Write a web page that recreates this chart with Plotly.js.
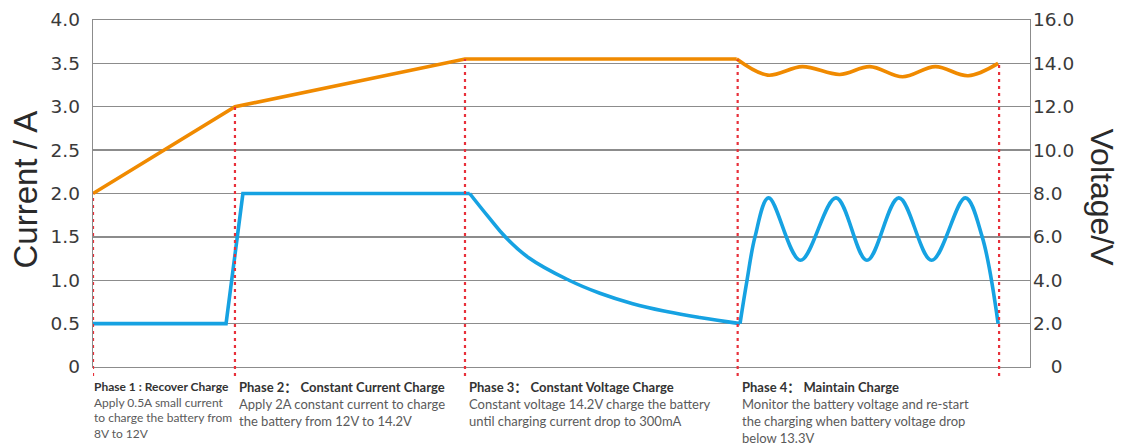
<!DOCTYPE html>
<html><head><meta charset="utf-8">
<script src="https://cdn.plot.ly/plotly-3.0.1.min.js"></script>
<style>html,body{margin:0;padding:0;background:#fff}#chart{width:1123px;height:445px}</style>
</head><body><div id="chart"></div>
<script>
// Voltage (right axis, V) over relative charging time
const rampTime = [0, 15.15, 39.7, 68.7];
const rampVoltage = [8.0, 12.0, 14.2, 14.2];
const waveTime = [68.7, 72.0, 75.7, 79.7, 82.9, 86.4, 89.9, 93.4, 96.6];
const waveVoltage = [14.2, 13.46, 13.85, 13.49, 13.85, 13.38, 13.85, 13.43, 14.0];

// Current (left axis, A)
const stepTime = [0, 14.2, 16.0, 40.2];
const stepCurrent = [0.5, 0.5, 2.0, 2.0];
const decayTime = [40.2, 42.2, 44.0, 46.5, 50.8, 54.1, 57.6, 61.2, 64.75, 69.05];
const decayCurrent = [2.0, 1.73, 1.5, 1.26, 1.0, 0.85, 0.73, 0.64, 0.57, 0.5];
const pulseTime = [69.05, 69.8, 70.65, 72.1, 75.5, 79.3, 82.6, 86.0, 89.5, 93.1, 94.9, 96.6];
const pulseCurrent = [0.5, 1.0, 1.5, 1.95, 1.23, 1.95, 1.23, 1.95, 1.23, 1.95, 1.5, 0.5];

// Phase boundaries
const phaseStart = [0, 15.15, 39.7, 68.8, 96.7];

// Ticks
const currentTicks = [0, 0.5, 1.0, 1.5, 2.0, 2.5, 3.0, 3.5, 4.0];
const currentTickText = ['0', '0.5', '1.0', '1.5', '2.0', '2.5', '3.0', '3.5', '4.0'];
const voltageTicks = [0, 2, 4, 6, 8, 10, 12, 14, 16];
const voltageTickText = ['\u2007\u20080', '2.0', '4.0', '6.0', '8.0', '10.0', '12.0', '14.0', '16.0'];

// Phase descriptions
const phaseTitles = [
  'Phase 1 : Recover Charge',
  'Phase 2\uFF1A\u00A0Constant Current Charge',
  'Phase 3\uFF1A\u00A0Constant Voltage Charge',
  'Phase 4\uFF1A\u00A0Maintain Charge'
];
const phaseNotes = [
  ['Apply 0.5A small current', 'to charge the battery from', '8V to 12V'],
  ['Apply 2A constant current to charge', 'the battery from 12V to 14.2V'],
  ['Constant voltage 14.2V charge the battery', 'until charging current drop to 300mA'],
  ['Monitor the battery voltage and re-start', 'the charging when battery voltage drop', 'below 13.3V']
];

const ORANGE = '#f08a00', BLUE = '#16a2e2', RED = '#e8303a', GRID = '#8c8c8c';
const allVT = rampTime.concat(waveTime.slice(1));
const allVV = rampVoltage.concat(waveVoltage.slice(1));
function voltageAt(t) {
  if (t <= allVT[0]) return allVV[0];
  for (let i = 1; i < allVT.length; i++) {
    if (t <= allVT[i]) {
      const f = (t - allVT[i-1]) / (allVT[i] - allVT[i-1]);
      return allVV[i-1] + f * (allVV[i] - allVV[i-1]);
    }
  }
  return allVV[allVV.length - 1];
}

const traces = [
  {x: stepTime, y: stepCurrent, yaxis: 'y', mode: 'lines', line: {color: BLUE, width: 3.6}},
  {x: decayTime, y: decayCurrent, yaxis: 'y', mode: 'lines', line: {color: BLUE, width: 3.6, shape: 'spline', smoothing: 1.2}},
  {x: pulseTime, y: pulseCurrent, yaxis: 'y', mode: 'lines', line: {color: BLUE, width: 3.6, shape: 'spline'}},
  {x: rampTime, y: rampVoltage, yaxis: 'y2', mode: 'lines', line: {color: ORANGE, width: 3.6}},
  {x: waveTime, y: waveVoltage, yaxis: 'y2', mode: 'lines', line: {color: ORANGE, width: 3.6, shape: 'spline'}}
];

const V_MAX = 16;
const shapes = phaseStart.map(t => ({
  type: 'line', xref: 'x', yref: 'paper', x0: t, x1: t,
  y0: -0.026, y1: voltageAt(t) / V_MAX,
  line: {color: RED, width: 2.2, dash: '3px,4px'}, layer: 'above'
}));

const tickFont = {family: 'DejaVu Sans', size: 18.5, color: '#3a3a3a'};
const annotations = phaseTitles.map((title, i) => ({
  xref: 'x', yref: 'paper', x: phaseStart[i], y: i === 0 ? -0.03 : -0.028,
  xanchor: 'left', yanchor: 'top', align: 'left', showarrow: false,
  xshift: i === 0 ? -1 : 2,
  font: {family: 'Lato, Noto Sans CJK SC', size: i === 0 ? 12 : 13, color: '#333'},
  text: '<b>' + title + '</b><br>' + phaseNotes[i].map(l => '<span style="color:#5a5a5a">' + l + '</span>').join('<br>')
}));
annotations.push({
  xref: 'paper', yref: 'paper', x: 0, y: 0.5, xshift: -68, yshift: 4,
  xanchor: 'center', yanchor: 'middle',
  textangle: -90, showarrow: false, text: 'Current / A',
  font: {family: 'Liberation Sans', size: 33, color: '#2a2a2a'}
});
annotations.push({
  xref: 'paper', yref: 'paper', x: 1, y: 0.5, xshift: 72, yshift: -4,
  xanchor: 'center', yanchor: 'middle',
  textangle: 90, showarrow: false, text: 'Voltage/V',
  font: {family: 'Liberation Sans', size: 32, color: '#2a2a2a'}
});

const layout = {
  width: 1123, height: 445,
  margin: {l: 93, r: 93, t: 20, b: 78},
  paper_bgcolor: '#fff', plot_bgcolor: '#fff',
  showlegend: false,
  xaxis: {range: [0, 100], showgrid: false, zeroline: false, showticklabels: false, ticks: '',
          showline: true, mirror: true, linecolor: GRID, linewidth: 1.3},
  yaxis: {range: [0, 4], tickvals: currentTicks, ticktext: currentTickText, tickfont: tickFont,
          showgrid: true, gridcolor: GRID, gridwidth: 1.3, zeroline: false,
          showline: true, mirror: true, linecolor: GRID, linewidth: 1.3, ticks: '', ticklabelstandoff: 8},
  yaxis2: {range: [0, V_MAX], overlaying: 'y', side: 'right', tickvals: voltageTicks, ticktext: voltageTickText,
           tickfont: tickFont, showgrid: false, zeroline: false, showline: false, ticks: '', ticklabelstandoff: 2},
  shapes: shapes,
  annotations: annotations
};

Plotly.newPlot('chart', traces, layout, {displayModeBar: false, staticPlot: true});
</script>
</body></html>
